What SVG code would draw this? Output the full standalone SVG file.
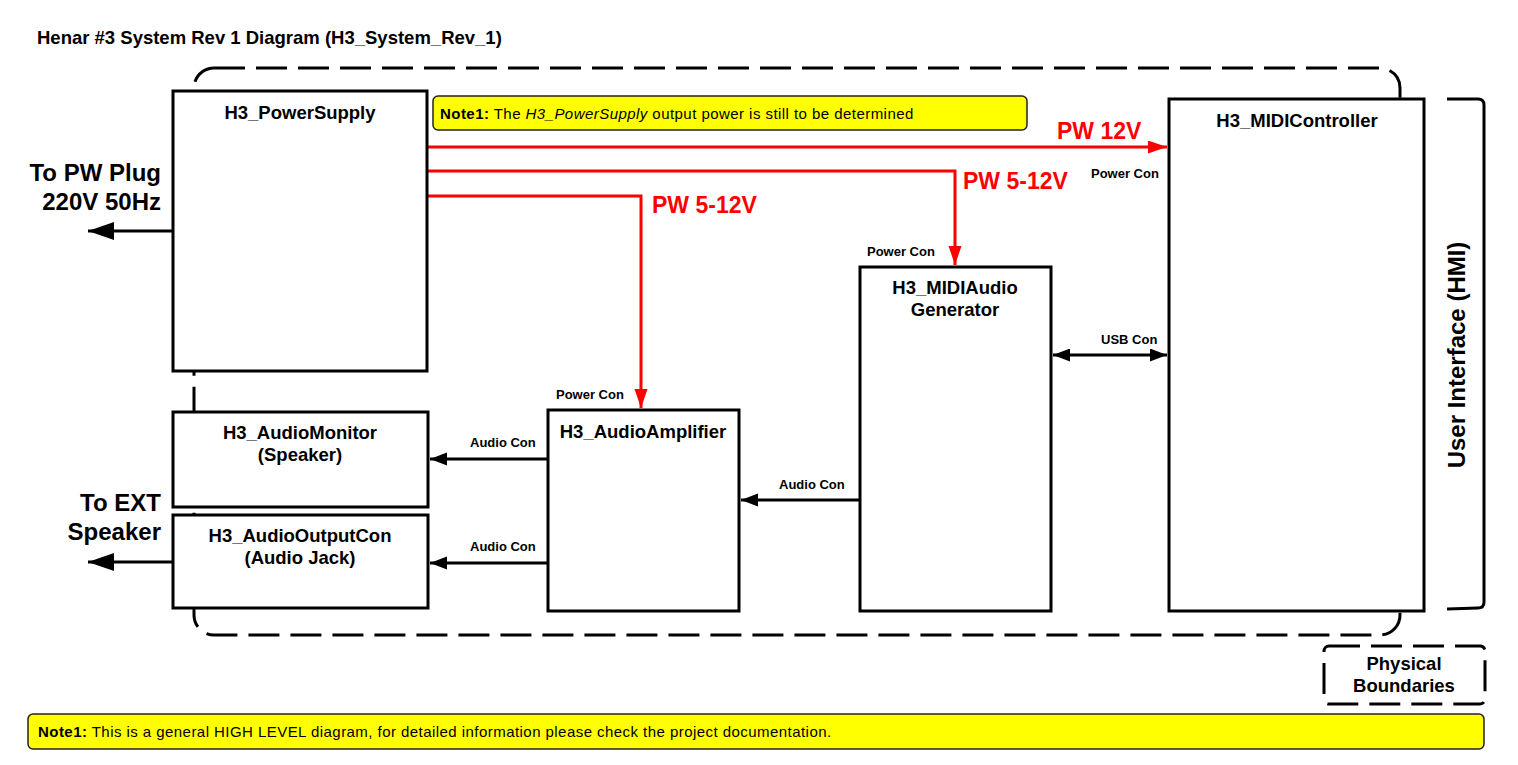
<svg xmlns="http://www.w3.org/2000/svg" width="1518" height="765" viewBox="0 0 1518 765">
<style>
text{font-family:"Liberation Sans",Arial,sans-serif;fill:#000}
.b{font-weight:bold}
.box{fill:#fff;stroke:#000;stroke-width:3}
.lbl{font-size:18.5px;font-weight:bold;text-anchor:middle}
.con{font-size:13px;font-weight:bold}
.big{font-size:24px;font-weight:bold}
.pw{font-size:23px;font-weight:bold;fill:#ff0000}
.red{fill:none;stroke:#ff0000;stroke-width:3}
.blk{fill:none;stroke:#000;stroke-width:3}
.dash{fill:none;stroke:#000;stroke-width:3;stroke-dasharray:31 11}
.note{fill:#ffff00;stroke:#222;stroke-width:1.5}
.nt{font-size:15px;letter-spacing:0.45px}
</style>
<defs>
<marker id="ar" markerUnits="userSpaceOnUse" markerWidth="20" markerHeight="14" refX="19" refY="6.5" orient="auto"><path d="M0,0 L19,6.5 L0,13 Z" fill="#ff0000"/></marker>
<marker id="ab" markerUnits="userSpaceOnUse" markerWidth="18" markerHeight="14" refX="17" refY="6.5" orient="auto"><path d="M0,0 L17,6.5 L0,13 Z" fill="#000"/></marker>
<marker id="abs" markerUnits="userSpaceOnUse" markerWidth="18" markerHeight="14" refX="0" refY="6.5" orient="auto"><path d="M17,0 L0,6.5 L17,13 Z" fill="#000"/></marker>
<marker id="abig" markerUnits="userSpaceOnUse" markerWidth="27" markerHeight="20" refX="26" refY="9" orient="auto"><path d="M0,0 L26,9 L0,18 Z" fill="#000"/></marker>
</defs>

<rect width="1518" height="765" fill="#fff"/>
<text class="b" x="37" y="44" font-size="18.5">Henar #3 System Rev 1 Diagram (H3_System_Rev_1)</text>

<g id="boundary">
<rect class="dash" x="194" y="68" width="1206" height="567" rx="20" ry="20"/>
</g>

<g id="connectors">
<path class="red" d="M427,147 L1167,147" marker-end="url(#ar)"/>
<path class="red" d="M427,171 L955,171 L955,265" marker-end="url(#ar)"/>
<path class="red" d="M427,196 L641,196 L641,408" marker-end="url(#ar)"/>
<path class="blk" d="M1053,355 L1167,355" marker-start="url(#abs)" marker-end="url(#ab)"/>
<path class="blk" d="M860,500 L741,500" marker-end="url(#ab)"/>
<path class="blk" d="M548,459 L430,459" marker-end="url(#ab)"/>
<path class="blk" d="M548,563 L430,563" marker-end="url(#ab)"/>
<path class="blk" d="M173,231 L88,231" marker-end="url(#abig)"/>
<path class="blk" d="M173,562 L88,562" marker-end="url(#abig)"/>
<text class="pw" x="1057" y="139">PW 12V</text>
<text class="pw" x="963" y="189">PW 5-12V</text>
<text class="pw" x="652" y="213">PW 5-12V</text>
<text class="con" x="1091" y="178">Power Con</text>
<text class="con" x="867" y="256">Power Con</text>
<text class="con" x="556" y="399">Power Con</text>
<text class="con" x="1101" y="344">USB Con</text>
<text class="con" x="779" y="489">Audio Con</text>
<text class="con" x="470" y="447">Audio Con</text>
<text class="con" x="470" y="551">Audio Con</text>
<text class="big" x="161" y="181" text-anchor="end">To PW Plug</text>
<text class="big" x="161" y="210" text-anchor="end">220V 50Hz</text>
<text class="big" x="161" y="511" text-anchor="end">To EXT</text>
<text class="big" x="161" y="540" text-anchor="end">Speaker</text>
</g>

<g id="H3_PowerSupply">
<rect class="box" x="173" y="91" width="254" height="280"/>
<text class="lbl" x="300" y="119">H3_PowerSupply</text>
</g>

<g id="note_top">
<rect class="note" x="433" y="96" width="594" height="34" rx="5" ry="5"/>
<text class="nt" x="440" y="119"><tspan class="b">Note1:</tspan> The <tspan font-style="italic">H3_PowerSupply</tspan> output power is still to be determined</text>
</g>

<g id="H3_MIDIController">
<rect class="box" x="1169" y="99" width="255" height="512"/>
<text class="lbl" x="1297" y="127">H3_MIDIController</text>
</g>

<g id="H3_MIDIAudioGenerator">
<rect class="box" x="860" y="267" width="191" height="344"/>
<text class="lbl" x="955" y="294">H3_MIDIAudio</text>
<text class="lbl" x="955" y="316">Generator</text>
</g>

<g id="H3_AudioAmplifier">
<rect class="box" x="548" y="410" width="191" height="201"/>
<text class="lbl" x="643" y="438">H3_AudioAmplifier</text>
</g>

<g id="H3_AudioMonitor">
<rect class="box" x="173" y="412" width="255" height="95"/>
<text class="lbl" x="300" y="439">H3_AudioMonitor</text>
<text class="lbl" x="300" y="461">(Speaker)</text>
</g>

<g id="H3_AudioOutputCon">
<rect class="box" x="173" y="515" width="255" height="93"/>
<text class="lbl" x="300" y="542">H3_AudioOutputCon</text>
<text class="lbl" x="300" y="564">(Audio Jack)</text>
</g>

<g id="user_interface">
<path class="blk" d="M1447,99 L1478,99 Q1484,99 1484,105 L1484,602 Q1484,608 1478,608 L1447,609"/>
<text class="big" font-size="23.5" transform="translate(1465,355) rotate(-90)" text-anchor="middle">User Interface (HMI)</text>
</g>

<g id="legend">
<rect class="dash" x="1324" y="646" width="161" height="58" rx="5" ry="5"/>
<text class="lbl" x="1404" y="670">Physical</text>
<text class="lbl" x="1404" y="692">Boundaries</text>
</g>

<g id="note_bottom">
<rect class="note" x="28" y="714" width="1456" height="35" rx="5" ry="5"/>
<text class="nt" x="38" y="737"><tspan class="b">Note1:</tspan> This is a general HIGH LEVEL diagram, for detailed information please check the project documentation.</text>
</g>
</svg>
